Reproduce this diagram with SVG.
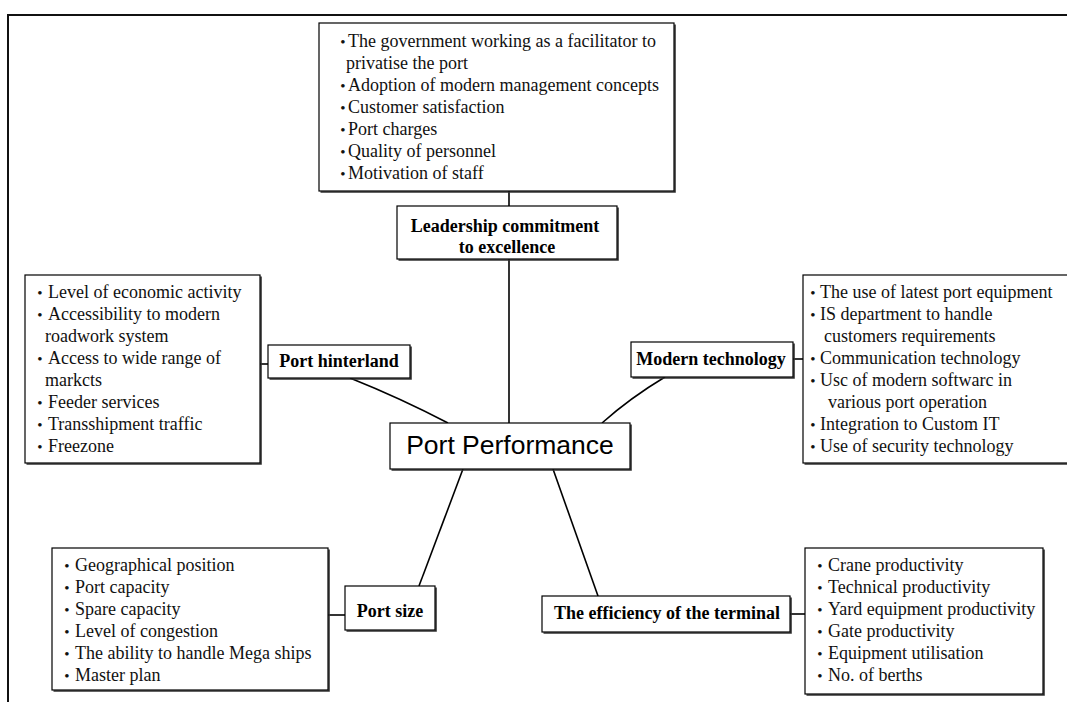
<svg xmlns="http://www.w3.org/2000/svg" width="1067" height="702" viewBox="0 0 1067 702">
  <style>
    .frame { fill: none; stroke: #111; stroke-width: 2; }
    .box { fill: #fff; stroke: #000; stroke-width: 1.2; }
    .shade { fill: none; stroke: #333; stroke-width: 1.6; }
    .item { font-family: "Liberation Serif", "Times New Roman", serif; font-size: 18px; fill: #111; }
    .dot { font-family: "Liberation Serif", "Times New Roman", serif; font-size: 15px; fill: #111; text-anchor: middle; }
    .head { font-family: "Liberation Serif", "Times New Roman", serif; font-size: 18px; font-weight: bold; fill: #000; text-anchor: middle; }
    .core { font-family: "Liberation Sans", Arial, sans-serif; font-size: 26.5px; fill: #000; text-anchor: middle; }
    .link { fill: none; stroke: #000; stroke-width: 1.6; }
  </style>

  <rect width="1067" height="702" fill="#fff"/>

  <!-- page frame -->
  <path class="frame" d="M8,702 V15 H1067"/>

  <!-- connectors -->
  <g id="connectors">
    <line class="link" x1="509" y1="191" x2="509" y2="206"/>
    <line class="link" x1="509" y1="259" x2="509" y2="423"/>
    <line class="link" x1="260" y1="364" x2="268" y2="364"/>
    <path class="link" d="M350,378 Q400,398 448,423"/>
    <line class="link" x1="793" y1="359" x2="803" y2="359"/>
    <path class="link" d="M665,377 Q630,398 602,423"/>
    <line class="link" x1="463" y1="469" x2="419" y2="586"/>
    <line class="link" x1="328" y1="615" x2="345" y2="615"/>
    <line class="link" x1="553" y1="469" x2="598" y2="596"/>
    <line class="link" x1="790" y1="614" x2="805" y2="614"/>
  </g>

  <!-- leadership factors list -->
  <g id="leadership-list">
    <path class="shade" d="M320.5,192 H675 V24.5"/>
    <rect class="box" x="319" y="23" width="355" height="168"/>
    <text class="dot" x="343" y="47">•</text>
    <text class="item" x="348" y="47">The government working as a facilitator to</text>
    <text class="item" x="346" y="69">privatise the port</text>
    <text class="dot" x="343" y="91">•</text>
    <text class="item" x="348" y="91">Adoption of modern management concepts</text>
    <text class="dot" x="343" y="113">•</text>
    <text class="item" x="348" y="113">Customer satisfaction</text>
    <text class="dot" x="343" y="135">•</text>
    <text class="item" x="348" y="135">Port charges</text>
    <text class="dot" x="343" y="157">•</text>
    <text class="item" x="348" y="157">Quality of personnel</text>
    <text class="dot" x="343" y="179">•</text>
    <text class="item" x="348" y="179">Motivation of staff</text>
  </g>

  <!-- leadership heading -->
  <g id="leadership">
    <path class="shade" d="M398.5,260 H618 V207.5"/>
    <rect class="box" x="397" y="206" width="220" height="53"/>
    <text class="head" x="505" y="232">Leadership commitment</text>
    <text class="head" x="507" y="253">to excellence</text>
  </g>

  <!-- hinterland factors list -->
  <g id="hinterland-list">
    <path class="shade" d="M26.5,464 H261 V276.5"/>
    <rect class="box" x="25" y="275" width="235" height="188"/>
    <text class="dot" x="40" y="298">•</text>
    <text class="item" x="48" y="298">Level of economic activity</text>
    <text class="dot" x="40" y="320">•</text>
    <text class="item" x="48" y="320">Accessibility to modern</text>
    <text class="item" x="45" y="342">roadwork system</text>
    <text class="dot" x="40" y="364">•</text>
    <text class="item" x="48" y="364">Access to wide range of</text>
    <text class="item" x="45" y="386">markcts</text>
    <text class="dot" x="40" y="408">•</text>
    <text class="item" x="48" y="408">Feeder services</text>
    <text class="dot" x="40" y="430">•</text>
    <text class="item" x="48" y="430">Transshipment traffic</text>
    <text class="dot" x="40" y="452">•</text>
    <text class="item" x="48" y="452">Freezone</text>
  </g>

  <!-- hinterland heading -->
  <g id="hinterland">
    <path class="shade" d="M269.5,379 H411 V346.5"/>
    <rect class="box" x="268" y="345" width="142" height="33"/>
    <text class="head" x="339" y="367">Port hinterland</text>
  </g>

  <!-- technology heading -->
  <g id="technology">
    <path class="shade" d="M632.5,378 H794 V343.5"/>
    <rect class="box" x="631" y="342" width="162" height="35"/>
    <text class="head" x="711" y="365">Modern technology</text>
  </g>

  <!-- technology factors list -->
  <g id="technology-list">
    <path class="shade" d="M804.5,464 H1070"/>
    <rect class="box" x="803" y="275" width="270" height="188"/>
    <text class="dot" x="813" y="298">•</text>
    <text class="item" x="820" y="298">The use of latest port equipment</text>
    <text class="dot" x="813" y="320">•</text>
    <text class="item" x="820" y="320">IS department to handle</text>
    <text class="item" x="824" y="342">customers requirements</text>
    <text class="dot" x="813" y="364">•</text>
    <text class="item" x="820" y="364">Communication technology</text>
    <text class="dot" x="813" y="386">•</text>
    <text class="item" x="820" y="386">Usc of modern softwarc in</text>
    <text class="item" x="828" y="408">various port operation</text>
    <text class="dot" x="813" y="430">•</text>
    <text class="item" x="820" y="430">Integration to Custom IT</text>
    <text class="dot" x="813" y="452">•</text>
    <text class="item" x="820" y="452">Use of security technology</text>
  </g>

  <!-- central node -->
  <g id="port-performance">
    <path class="shade" d="M391.5,470 H631 V424.5"/>
    <rect class="box" x="390" y="423" width="240" height="46"/>
    <text class="core" x="510" y="454">Port Performance</text>
  </g>

  <!-- size factors list -->
  <g id="size-list">
    <path class="shade" d="M53.5,691 H329 V549.5"/>
    <rect class="box" x="52" y="548" width="276" height="142"/>
    <text class="dot" x="67" y="571">•</text>
    <text class="item" x="75" y="571">Geographical position</text>
    <text class="dot" x="67" y="593">•</text>
    <text class="item" x="75" y="593">Port capacity</text>
    <text class="dot" x="67" y="615">•</text>
    <text class="item" x="75" y="615">Spare capacity</text>
    <text class="dot" x="67" y="637">•</text>
    <text class="item" x="75" y="637">Level of congestion</text>
    <text class="dot" x="67" y="659">•</text>
    <text class="item" x="75" y="659">The ability to handle Mega ships</text>
    <text class="dot" x="67" y="681">•</text>
    <text class="item" x="75" y="681">Master plan</text>
  </g>

  <!-- size heading -->
  <g id="port-size">
    <path class="shade" d="M346.5,631 H436 V587.5"/>
    <rect class="box" x="345" y="586" width="90" height="44"/>
    <text class="head" x="390" y="617">Port size</text>
  </g>

  <!-- terminal efficiency heading -->
  <g id="efficiency">
    <path class="shade" d="M543.5,633 H791 V597.5"/>
    <rect class="box" x="542" y="596" width="248" height="36"/>
    <text class="head" x="667" y="619">The efficiency of the terminal</text>
  </g>

  <!-- terminal efficiency factors list -->
  <g id="efficiency-list">
    <path class="shade" d="M806.5,695 H1044 V549.5"/>
    <rect class="box" x="805" y="548" width="238" height="146"/>
    <text class="dot" x="820" y="571">•</text>
    <text class="item" x="828" y="571">Crane productivity</text>
    <text class="dot" x="820" y="593">•</text>
    <text class="item" x="828" y="593">Technical productivity</text>
    <text class="dot" x="820" y="615">•</text>
    <text class="item" x="828" y="615">Yard equipment productivity</text>
    <text class="dot" x="820" y="637">•</text>
    <text class="item" x="828" y="637">Gate productivity</text>
    <text class="dot" x="820" y="659">•</text>
    <text class="item" x="828" y="659">Equipment utilisation</text>
    <text class="dot" x="820" y="681">•</text>
    <text class="item" x="828" y="681">No. of berths</text>
  </g>
</svg>
